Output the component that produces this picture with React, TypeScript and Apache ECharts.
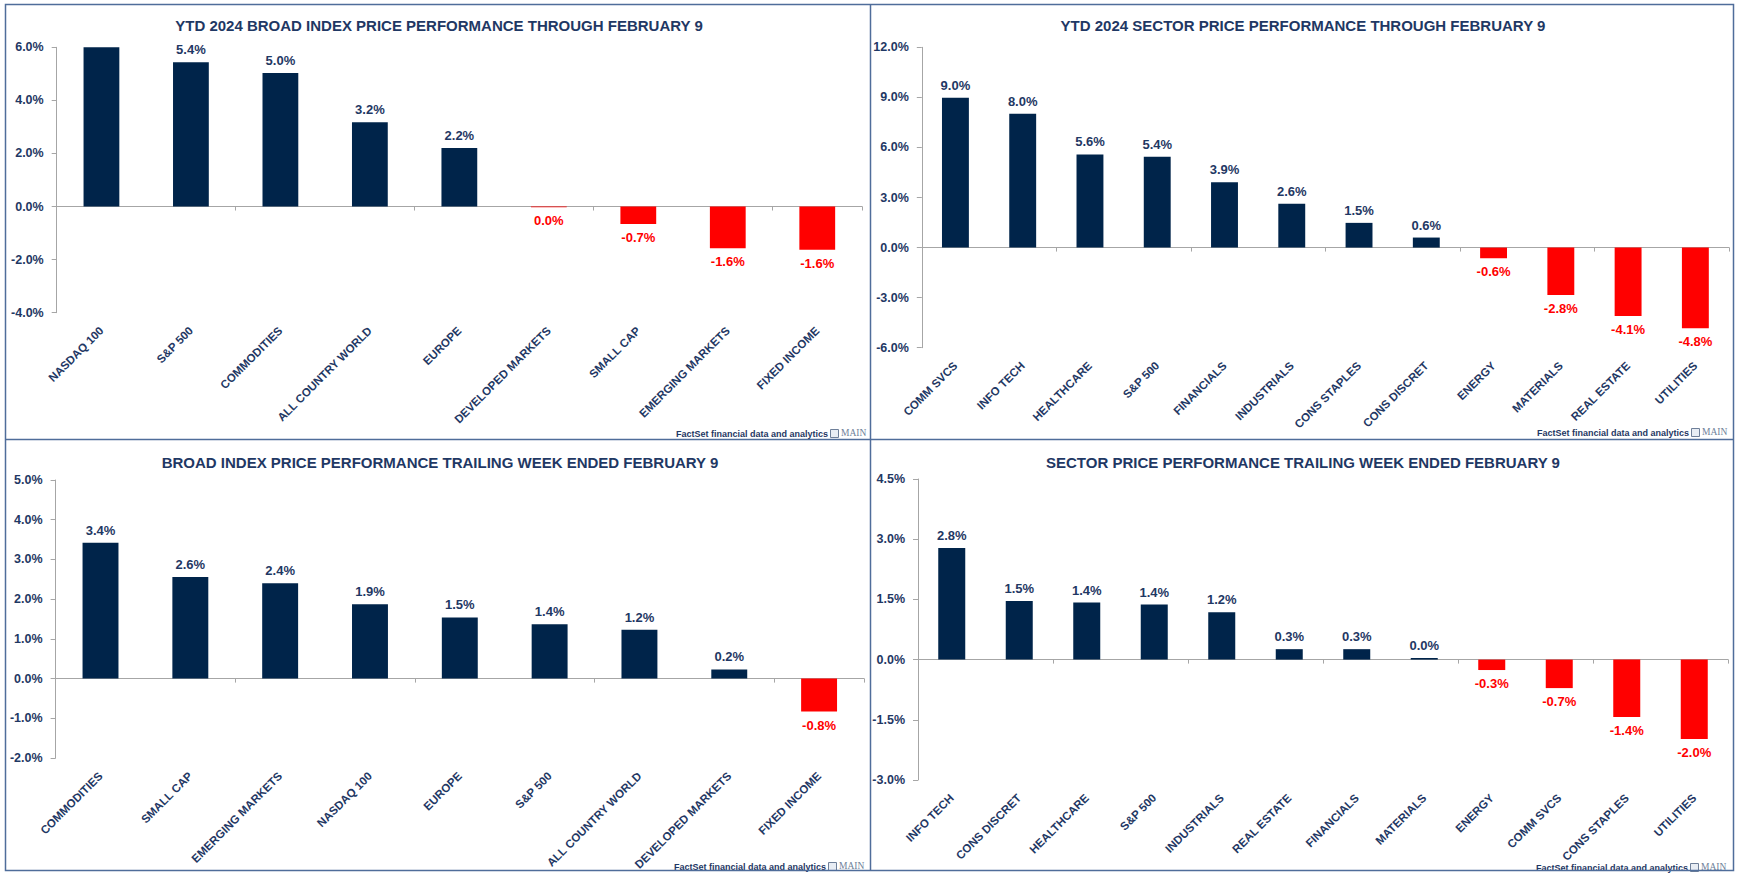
import React, { useEffect, useRef } from "react";
import * as echarts from "echarts";

// ---------- data ----------
const ytdBroadCategories = ["NASDAQ 100", "S&P 500", "COMMODITIES", "ALL COUNTRY WORLD", "EUROPE", "DEVELOPED MARKETS", "SMALL CAP", "EMERGING MARKETS", "FIXED INCOME"];
const ytdBroadValues = [6.0, 5.44, 5.03, 3.18, 2.21, -0.03, -0.66, -1.57, -1.63];

const ytdSectorCategories = ["COMM SVCS", "INFO TECH", "HEALTHCARE", "S&P 500", "FINANCIALS", "INDUSTRIALS", "CONS STAPLES", "CONS DISCRET", "ENERGY", "MATERIALS", "REAL ESTATE", "UTILITIES"];
const ytdSectorValues = [8.97, 8.02, 5.58, 5.44, 3.92, 2.62, 1.48, 0.6, -0.64, -2.84, -4.1, -4.84];

const weekBroadCategories = ["COMMODITIES", "SMALL CAP", "EMERGING MARKETS", "NASDAQ 100", "EUROPE", "S&P 500", "ALL COUNTRY WORLD", "DEVELOPED MARKETS", "FIXED INCOME"];
const weekBroadValues = [3.42, 2.56, 2.4, 1.87, 1.54, 1.37, 1.23, 0.23, -0.83];

const weekSectorCategories = ["INFO TECH", "CONS DISCRET", "HEALTHCARE", "S&P 500", "INDUSTRIALS", "REAL ESTATE", "FINANCIALS", "MATERIALS", "ENERGY", "COMM SVCS", "CONS STAPLES", "UTILITIES"];
const weekSectorValues = [2.78, 1.46, 1.42, 1.37, 1.18, 0.26, 0.26, 0.04, -0.26, -0.71, -1.43, -1.98];

// y axis ticks: [min, max, interval]
const ytdBroadTicks = [-4, 6, 2];
const ytdSectorTicks = [-6, 12, 3];
const weekBroadTicks = [-2, 5, 1];
const weekSectorTicks = [-3, 4.5, 1.5];

const titles = [
  "YTD 2024 BROAD INDEX PRICE PERFORMANCE THROUGH FEBRUARY 9",
  "YTD 2024 SECTOR PRICE PERFORMANCE THROUGH FEBRUARY 9",
  "BROAD INDEX PRICE PERFORMANCE TRAILING WEEK ENDED FEBRUARY 9",
  "SECTOR PRICE PERFORMANCE TRAILING WEEK ENDED FEBRUARY 9",
];
const sourceText = "FactSet financial data and analytics";
const logoText = "MAIN";

// ---------- styles ----------
const FONT = "'Liberation Sans', Arial, sans-serif";
const NAVY = "#00244A";
const RED = "#FF0000";
const TEXT = "#1F3864";
const AXIS = "#A6A6A6";
const BORDER = "#4F6D9A";

const panels = [
  { cats: ytdBroadCategories, vals: ytdBroadValues, ticks: ytdBroadTicks, grid: { left: 56.7, top: 47.3, width: 805.3, height: 265.4 }, title: [439, 25], foot: [828, 434] },
  { cats: ytdSectorCategories, vals: ytdSectorValues, ticks: ytdSectorTicks, grid: { left: 921.8, top: 47.3, width: 807.2, height: 300.4 }, title: [1303, 25], foot: [1689, 433] },
  { cats: weekBroadCategories, vals: weekBroadValues, ticks: weekBroadTicks, grid: { left: 55.6, top: 480, width: 808.4, height: 284 }, title: [440, 462], foot: [826, 867] },
  { cats: weekSectorCategories, vals: weekSectorValues, ticks: weekSectorTicks, grid: { left: 918, top: 479, width: 810, height: 301 }, title: [1303, 462], foot: [1688, 868] },
];

const fmt = (v: number) => (Math.abs(v) < 0.05 ? "0.0" : v.toFixed(1)) + "%";

function buildOption() {
  const grid: any[] = [];
  const xAxis: any[] = [];
  const yAxis: any[] = [];
  const series: any[] = [];
  const graphic: any[] = [];

  panels.forEach((p, i) => {
    grid.push({ ...p.grid, containLabel: false });
    const [min, max, interval] = p.ticks;
    // axis line at zero with ticks
    xAxis.push({
      type: "category",
      gridIndex: i,
      data: p.cats,
      position: "bottom",
      axisLine: { onZero: true, lineStyle: { color: AXIS, width: 1 } },
      axisTick: { show: true, length: 4, lineStyle: { color: AXIS } },
      axisLabel: { show: false },
      splitLine: { show: false },
    });
    // labels at the bottom of the plot
    xAxis.push({
      type: "category",
      gridIndex: i,
      data: p.cats,
      position: "bottom",
      axisLine: { show: false, onZero: false },
      axisTick: { show: false },
      axisLabel: {
        show: true,
        interval: 0,
        rotate: 45,
        margin: 16,
        color: TEXT,
        fontFamily: FONT,
        fontWeight: "bold",
        fontSize: 11.5,
      },
      splitLine: { show: false },
    });
    yAxis.push({
      type: "value",
      gridIndex: i,
      min,
      max,
      interval,
      axisLine: { show: true, lineStyle: { color: AXIS, width: 1 } },
      axisTick: { show: true, length: 5, lineStyle: { color: AXIS } },
      splitLine: { show: false },
      axisLabel: {
        margin: 13,
        color: TEXT,
        fontFamily: FONT,
        fontWeight: "bold",
        fontSize: 12.5,
        formatter: (v: number) => v.toFixed(1) + "%",
      },
    });
    series.push({
      type: "bar",
      xAxisIndex: i * 2,
      yAxisIndex: i,
      barWidth: "40%",
      data: p.vals.map((v) => ({
        value: v,
        itemStyle: { color: v < 0 ? RED : NAVY },
        label: {
          show: v < max,
          position: v < 0 ? "bottom" : "top",
          distance: v < 0 ? 7 : 6,
          color: v < 0 ? RED : TEXT,
        },
      })),
      label: {
        show: true,
        fontFamily: FONT,
        fontWeight: "bold",
        fontSize: 13,
        formatter: (prm: any) => fmt(prm.value),
      },
    });

    graphic.push({
      type: "text",
      x: p.title[0],
      y: p.title[1],
      style: {
        text: titles[i],
        fill: TEXT,
        font: `bold 15px ${FONT}`,
        textAlign: "center",
        textVerticalAlign: "middle",
      },
    });
    const fx = p.foot[0];
    const fy = p.foot[1];
    graphic.push({
      type: "text",
      x: fx,
      y: fy,
      style: {
        text: sourceText,
        fill: TEXT,
        font: `bold 9px ${FONT}`,
        textAlign: "right",
        textVerticalAlign: "middle",
      },
    });
    graphic.push({
      type: "rect",
      shape: { x: fx + 2.5, y: fy - 4.5, width: 8, height: 8 },
      style: { fill: "#E8EDF4", stroke: "#6E7F99", lineWidth: 1 },
    });
    graphic.push({
      type: "text",
      x: fx + 13,
      y: fy - 1.5,
      style: {
        text: logoText,
        fill: "#6E7F99",
        font: `9.5px 'Liberation Serif', serif`,
        textAlign: "left",
        textVerticalAlign: "middle",
      },
    });
  });

  // panel borders
  graphic.push({
    type: "rect",
    shape: { x: 5.5, y: 4.5, width: 1728, height: 866 },
    style: { fill: "none", stroke: BORDER, lineWidth: 1.5 },
  });
  graphic.push({
    type: "line",
    shape: { x1: 870.5, y1: 4.5, x2: 870.5, y2: 870.5 },
    style: { stroke: BORDER, lineWidth: 1.5 },
  });
  graphic.push({
    type: "line",
    shape: { x1: 5.5, y1: 439.5, x2: 1733.5, y2: 439.5 },
    style: { stroke: BORDER, lineWidth: 1.5 },
  });

  return {
    animation: false,
    backgroundColor: "#FFFFFF",
    grid,
    xAxis,
    yAxis,
    series,
    graphic,
  };
}

export default function App() {
  const ref = useRef<HTMLDivElement>(null);
  useEffect(() => {
    if (!ref.current) return;
    const chart = echarts.init(ref.current, undefined, { renderer: "svg" });
    chart.setOption(buildOption() as any);
    return () => chart.dispose();
  }, []);
  return (
    <div
      ref={ref}
      style={{ position: "fixed", left: 0, top: 0, width: 1739, height: 873, background: "#fff" }}
    />
  );
}
